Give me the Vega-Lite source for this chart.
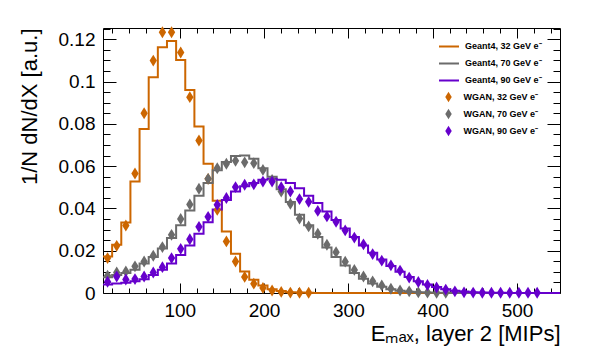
{
 "$schema": "https://vega.github.io/schema/vega-lite/v6.json",
 "width": 457, "height": 265,
 "autosize": {"type": "none"},
 "padding": {"left": 103, "top": 28, "right": 50, "bottom": 66},
 "background": "white",
 "config": {
  "view": {"stroke": "black", "strokeWidth": 1},
  "font": "Liberation Sans",
  "axis": {"domain": false, "grid": false, "tickColor": "black", "labelColor": "black", "titleColor": "black", "labelFont": "Liberation Sans", "titleFont": "Liberation Sans", "titleFontWeight": "normal", "tickWidth": 1},
  "legend": {"labelFont": "Liberation Sans", "labelColor": "black"}
 },
 "datasets": {
  "hist": [
   {"s":"G32","lo":9,"hi":19.84,"y":0.0173},{"s":"G32","lo":19.84,"hi":30.68,"y":0.0228},{"s":"G32","lo":30.68,"hi":41.52,"y":0.0333},{"s":"G32","lo":41.52,"hi":52.36,"y":0.0527},{"s":"G32","lo":52.36,"hi":63.2,"y":0.0775},{"s":"G32","lo":63.2,"hi":74.04,"y":0.102},{"s":"G32","lo":74.04,"hi":84.88,"y":0.1162},{"s":"G32","lo":84.88,"hi":95.72,"y":0.1192},{"s":"G32","lo":95.72,"hi":106.56,"y":0.1102},{"s":"G32","lo":106.56,"hi":117.4,"y":0.096},
   {"s":"G32","lo":117.4,"hi":128.24,"y":0.0787},{"s":"G32","lo":128.24,"hi":139.08,"y":0.0611},{"s":"G32","lo":139.08,"hi":149.92,"y":0.0436},{"s":"G32","lo":149.92,"hi":160.76,"y":0.0291},{"s":"G32","lo":160.76,"hi":171.6,"y":0.0186},{"s":"G32","lo":171.6,"hi":182.44,"y":0.0102},{"s":"G32","lo":182.44,"hi":193.28,"y":0.0063},{"s":"G32","lo":193.28,"hi":204.12,"y":0.0035},{"s":"G32","lo":204.12,"hi":214.96,"y":0.0018},{"s":"G32","lo":214.96,"hi":225.8,"y":0.0009},
   {"s":"G32","lo":225.8,"hi":236.64,"y":0.0004},{"s":"G32","lo":236.64,"hi":247.48,"y":0.0002},{"s":"G32","lo":247.48,"hi":258.32,"y":0.0001},{"s":"G32","lo":258.32,"hi":269.16,"y":0},{"s":"G32","lo":269.16,"hi":280,"y":0},{"s":"G32","lo":280,"hi":290.84,"y":0},{"s":"G32","lo":290.84,"hi":301.68,"y":0},{"s":"G32","lo":301.68,"hi":312.52,"y":0},{"s":"G32","lo":312.52,"hi":323.36,"y":0},{"s":"G32","lo":323.36,"hi":334.2,"y":0},
   {"s":"G32","lo":334.2,"hi":345.04,"y":0},{"s":"G32","lo":345.04,"hi":355.88,"y":0},{"s":"G32","lo":355.88,"hi":366.72,"y":0},{"s":"G32","lo":366.72,"hi":377.56,"y":0},{"s":"G32","lo":377.56,"hi":388.4,"y":0},{"s":"G32","lo":388.4,"hi":399.24,"y":0},{"s":"G32","lo":399.24,"hi":410.08,"y":0},{"s":"G32","lo":410.08,"hi":420.92,"y":0},{"s":"G32","lo":420.92,"hi":431.76,"y":0},{"s":"G32","lo":431.76,"hi":442.6,"y":0},
   {"s":"G32","lo":442.6,"hi":453.44,"y":0},{"s":"G32","lo":453.44,"hi":464.28,"y":0},{"s":"G32","lo":464.28,"hi":475.12,"y":0},{"s":"G32","lo":475.12,"hi":485.96,"y":0},{"s":"G32","lo":485.96,"hi":496.8,"y":0},{"s":"G32","lo":496.8,"hi":507.64,"y":0},{"s":"G32","lo":507.64,"hi":518.48,"y":0},{"s":"G32","lo":518.48,"hi":529.32,"y":0},{"s":"G32","lo":529.32,"hi":540.16,"y":0},{"s":"G32","lo":540.16,"hi":551,"y":0},

   {"s":"G70","lo":9,"hi":19.84,"y":0.0075},{"s":"G70","lo":19.84,"hi":30.68,"y":0.0085},{"s":"G70","lo":30.68,"hi":41.52,"y":0.0095},{"s":"G70","lo":41.52,"hi":52.36,"y":0.011},{"s":"G70","lo":52.36,"hi":63.2,"y":0.014},{"s":"G70","lo":63.2,"hi":74.04,"y":0.017},{"s":"G70","lo":74.04,"hi":84.88,"y":0.021},{"s":"G70","lo":84.88,"hi":95.72,"y":0.026},{"s":"G70","lo":95.72,"hi":106.56,"y":0.032},{"s":"G70","lo":106.56,"hi":117.4,"y":0.039},
   {"s":"G70","lo":117.4,"hi":128.24,"y":0.046},{"s":"G70","lo":128.24,"hi":139.08,"y":0.052},{"s":"G70","lo":139.08,"hi":149.92,"y":0.058},{"s":"G70","lo":149.92,"hi":160.76,"y":0.062},{"s":"G70","lo":160.76,"hi":171.6,"y":0.0648},{"s":"G70","lo":171.6,"hi":182.44,"y":0.065},{"s":"G70","lo":182.44,"hi":193.28,"y":0.0635},{"s":"G70","lo":193.28,"hi":204.12,"y":0.059},{"s":"G70","lo":204.12,"hi":214.96,"y":0.055},{"s":"G70","lo":214.96,"hi":225.8,"y":0.049},
   {"s":"G70","lo":225.8,"hi":236.64,"y":0.043},{"s":"G70","lo":236.64,"hi":247.48,"y":0.037},{"s":"G70","lo":247.48,"hi":258.32,"y":0.032},{"s":"G70","lo":258.32,"hi":269.16,"y":0.0265},{"s":"G70","lo":269.16,"hi":280,"y":0.0215},{"s":"G70","lo":280,"hi":290.84,"y":0.017},{"s":"G70","lo":290.84,"hi":301.68,"y":0.013},{"s":"G70","lo":301.68,"hi":312.52,"y":0.0095},{"s":"G70","lo":312.52,"hi":323.36,"y":0.0067},{"s":"G70","lo":323.36,"hi":334.2,"y":0.0045},
   {"s":"G70","lo":334.2,"hi":345.04,"y":0.003},{"s":"G70","lo":345.04,"hi":355.88,"y":0.0018},{"s":"G70","lo":355.88,"hi":366.72,"y":0.0011},{"s":"G70","lo":366.72,"hi":377.56,"y":0.0006},{"s":"G70","lo":377.56,"hi":388.4,"y":0.0003},{"s":"G70","lo":388.4,"hi":399.24,"y":0.0002},{"s":"G70","lo":399.24,"hi":410.08,"y":0.0001},{"s":"G70","lo":410.08,"hi":420.92,"y":0.0001},{"s":"G70","lo":420.92,"hi":431.76,"y":0},{"s":"G70","lo":431.76,"hi":442.6,"y":0},
   {"s":"G70","lo":442.6,"hi":453.44,"y":0},{"s":"G70","lo":453.44,"hi":464.28,"y":0},{"s":"G70","lo":464.28,"hi":475.12,"y":0},{"s":"G70","lo":475.12,"hi":485.96,"y":0},{"s":"G70","lo":485.96,"hi":496.8,"y":0},{"s":"G70","lo":496.8,"hi":507.64,"y":0},{"s":"G70","lo":507.64,"hi":518.48,"y":0},{"s":"G70","lo":518.48,"hi":529.32,"y":0},{"s":"G70","lo":529.32,"hi":540.16,"y":0},{"s":"G70","lo":540.16,"hi":551,"y":0},

   {"s":"G90","lo":9,"hi":19.84,"y":0.004},{"s":"G90","lo":19.84,"hi":30.68,"y":0.0045},{"s":"G90","lo":30.68,"hi":41.52,"y":0.0048},{"s":"G90","lo":41.52,"hi":52.36,"y":0.0055},{"s":"G90","lo":52.36,"hi":63.2,"y":0.0065},{"s":"G90","lo":63.2,"hi":74.04,"y":0.0085},{"s":"G90","lo":74.04,"hi":84.88,"y":0.011},{"s":"G90","lo":84.88,"hi":95.72,"y":0.014},{"s":"G90","lo":95.72,"hi":106.56,"y":0.018},{"s":"G90","lo":106.56,"hi":117.4,"y":0.0225},
   {"s":"G90","lo":117.4,"hi":128.24,"y":0.028},{"s":"G90","lo":128.24,"hi":139.08,"y":0.0335},{"s":"G90","lo":139.08,"hi":149.92,"y":0.0395},{"s":"G90","lo":149.92,"hi":160.76,"y":0.044},{"s":"G90","lo":160.76,"hi":171.6,"y":0.048},{"s":"G90","lo":171.6,"hi":182.44,"y":0.0505},{"s":"G90","lo":182.44,"hi":193.28,"y":0.052},{"s":"G90","lo":193.28,"hi":204.12,"y":0.0535},{"s":"G90","lo":204.12,"hi":214.96,"y":0.054},{"s":"G90","lo":214.96,"hi":225.8,"y":0.0535},
   {"s":"G90","lo":225.8,"hi":236.64,"y":0.052},{"s":"G90","lo":236.64,"hi":247.48,"y":0.0495},{"s":"G90","lo":247.48,"hi":258.32,"y":0.046},{"s":"G90","lo":258.32,"hi":269.16,"y":0.0425},{"s":"G90","lo":269.16,"hi":280,"y":0.0385},{"s":"G90","lo":280,"hi":290.84,"y":0.0345},{"s":"G90","lo":290.84,"hi":301.68,"y":0.0305},{"s":"G90","lo":301.68,"hi":312.52,"y":0.0265},{"s":"G90","lo":312.52,"hi":323.36,"y":0.0225},{"s":"G90","lo":323.36,"hi":334.2,"y":0.019},
   {"s":"G90","lo":334.2,"hi":345.04,"y":0.0158},{"s":"G90","lo":345.04,"hi":355.88,"y":0.0128},{"s":"G90","lo":355.88,"hi":366.72,"y":0.01},{"s":"G90","lo":366.72,"hi":377.56,"y":0.0076},{"s":"G90","lo":377.56,"hi":388.4,"y":0.0056},{"s":"G90","lo":388.4,"hi":399.24,"y":0.004},{"s":"G90","lo":399.24,"hi":410.08,"y":0.0028},{"s":"G90","lo":410.08,"hi":420.92,"y":0.0018},{"s":"G90","lo":420.92,"hi":431.76,"y":0.0011},{"s":"G90","lo":431.76,"hi":442.6,"y":0.0007},
   {"s":"G90","lo":442.6,"hi":453.44,"y":0.0004},{"s":"G90","lo":453.44,"hi":464.28,"y":0.0002},{"s":"G90","lo":464.28,"hi":475.12,"y":0.0001},{"s":"G90","lo":475.12,"hi":485.96,"y":0.0001},{"s":"G90","lo":485.96,"hi":496.8,"y":0},{"s":"G90","lo":496.8,"hi":507.64,"y":0},{"s":"G90","lo":507.64,"hi":518.48,"y":0},{"s":"G90","lo":518.48,"hi":529.32,"y":0},{"s":"G90","lo":529.32,"hi":540.16,"y":0},{"s":"G90","lo":540.16,"hi":551,"y":0}
  ],
  "pts": [
   {"s":"W32","x":14.42,"y":0.0165},{"s":"W32","x":25.26,"y":0.0223},{"s":"W32","x":36.1,"y":0.0319},{"s":"W32","x":46.94,"y":0.0565},{"s":"W32","x":57.78,"y":0.085},{"s":"W32","x":68.62,"y":0.1099},{"s":"W32","x":79.46,"y":0.1233},{"s":"W32","x":90.3,"y":0.1233},{"s":"W32","x":101.14,"y":0.1137},{"s":"W32","x":111.98,"y":0.0926},
   {"s":"W32","x":122.82,"y":0.0721},{"s":"W32","x":133.66,"y":0.054},{"s":"W32","x":144.5,"y":0.0393},{"s":"W32","x":155.34,"y":0.0244},{"s":"W32","x":166.18,"y":0.0149},{"s":"W32","x":177.02,"y":0.0076},{"s":"W32","x":187.86,"y":0.0044},{"s":"W32","x":198.7,"y":0.0024},{"s":"W32","x":209.54,"y":0.0012},{"s":"W32","x":220.38,"y":0.0005},
   {"s":"W32","x":231.22,"y":0.0002},{"s":"W32","x":242.06,"y":0.0001},{"s":"W32","x":252.9,"y":0.0001},

   {"s":"W70","x":14.42,"y":0.0082},{"s":"W70","x":25.26,"y":0.0097},{"s":"W70","x":36.1,"y":0.0102},{"s":"W70","x":46.94,"y":0.0126},{"s":"W70","x":57.78,"y":0.0149},{"s":"W70","x":68.62,"y":0.0176},{"s":"W70","x":79.46,"y":0.0217},{"s":"W70","x":90.3,"y":0.0275},{"s":"W70","x":101.14,"y":0.035},{"s":"W70","x":111.98,"y":0.0419},
   {"s":"W70","x":122.82,"y":0.0493},{"s":"W70","x":133.66,"y":0.054},{"s":"W70","x":144.5,"y":0.059},{"s":"W70","x":155.34,"y":0.0611},{"s":"W70","x":166.18,"y":0.0625},{"s":"W70","x":177.02,"y":0.0618},{"s":"W70","x":187.86,"y":0.0614},{"s":"W70","x":198.7,"y":0.0582},{"s":"W70","x":209.54,"y":0.0535},{"s":"W70","x":220.38,"y":0.048},
   {"s":"W70","x":231.22,"y":0.0422},{"s":"W70","x":242.06,"y":0.0352},{"s":"W70","x":252.9,"y":0.0315},{"s":"W70","x":263.74,"y":0.028},{"s":"W70","x":274.58,"y":0.0228},{"s":"W70","x":285.42,"y":0.0193},{"s":"W70","x":296.26,"y":0.0148},{"s":"W70","x":307.1,"y":0.0109},{"s":"W70","x":317.94,"y":0.0078},{"s":"W70","x":328.78,"y":0.0055},
   {"s":"W70","x":339.62,"y":0.0036},{"s":"W70","x":350.46,"y":0.002},{"s":"W70","x":361.3,"y":0.0012},{"s":"W70","x":372.14,"y":0.0008},{"s":"W70","x":382.98,"y":0.0003},{"s":"W70","x":393.82,"y":0.0002},{"s":"W70","x":404.66,"y":0.0001},{"s":"W70","x":415.5,"y":0.0001},

   {"s":"W90","x":14.42,"y":0.0053},{"s":"W90","x":25.26,"y":0.0078},{"s":"W90","x":36.1,"y":0.0064},{"s":"W90","x":46.94,"y":0.0066},{"s":"W90","x":57.78,"y":0.0078},{"s":"W90","x":68.62,"y":0.0097},{"s":"W90","x":79.46,"y":0.0122},{"s":"W90","x":90.3,"y":0.0165},{"s":"W90","x":101.14,"y":0.0209},{"s":"W90","x":111.98,"y":0.0254},
   {"s":"W90","x":122.82,"y":0.0313},{"s":"W90","x":133.66,"y":0.036},{"s":"W90","x":144.5,"y":0.0417},{"s":"W90","x":155.34,"y":0.0449},{"s":"W90","x":166.18,"y":0.0501},{"s":"W90","x":177.02,"y":0.0512},{"s":"W90","x":187.86,"y":0.0514},{"s":"W90","x":198.7,"y":0.0527},{"s":"W90","x":209.54,"y":0.0527},{"s":"W90","x":220.38,"y":0.05},
   {"s":"W90","x":231.22,"y":0.048},{"s":"W90","x":242.06,"y":0.0444},{"s":"W90","x":252.9,"y":0.0431},{"s":"W90","x":263.74,"y":0.0388},{"s":"W90","x":274.58,"y":0.0362},{"s":"W90","x":285.42,"y":0.0337},{"s":"W90","x":296.26,"y":0.0296},{"s":"W90","x":307.1,"y":0.0262},{"s":"W90","x":317.94,"y":0.023},{"s":"W90","x":328.78,"y":0.0184},
   {"s":"W90","x":339.62,"y":0.0153},{"s":"W90","x":350.46,"y":0.0131},{"s":"W90","x":361.3,"y":0.0106},{"s":"W90","x":372.14,"y":0.0073},{"s":"W90","x":382.98,"y":0.0052},{"s":"W90","x":393.82,"y":0.0038},{"s":"W90","x":404.66,"y":0.0026},{"s":"W90","x":415.5,"y":0.0016},{"s":"W90","x":426.34,"y":0.0008},{"s":"W90","x":437.18,"y":0.0003},
   {"s":"W90","x":448.02,"y":0.0002},{"s":"W90","x":458.86,"y":0.0001},{"s":"W90","x":469.7,"y":0.0001},{"s":"W90","x":480.54,"y":0.0001},{"s":"W90","x":491.38,"y":0.0001},{"s":"W90","x":502.22,"y":0.0001},{"s":"W90","x":513.06,"y":0.0001},{"s":"W90","x":523.9,"y":0.0001}
  ]
 },
 "layer": [
  {
   "data": {"name": "hist"},
   "transform": [{"fold": ["lo", "hi"], "as": ["edge", "xv"]}],
   "mark": {"type": "line", "strokeWidth": 2},
   "encoding": {
    "x": {"field": "xv", "type": "quantitative", "scale": {"domain": [9, 551], "nice": false, "zero": false},
          "axis": {"orient": "bottom", "values": [100, 200, 300, 400, 500], "format": "d", "tickSize": -10, "labelPadding": 18, "labelFontSize": 19,
                   "title": "Eₘₐₓ, layer 2 [MIPs]", "titleFontSize": 22, "titleAnchor": "end", "titleAlign": "right", "titleX": 457, "titleY": 47, "titleBaseline": "alphabetic"}},
    "y": {"field": "y", "type": "quantitative", "scale": {"domain": [0, 0.1253], "nice": false},
          "axis": {"orient": "left", "values": [0, 0.02, 0.04, 0.06, 0.08, 0.1, 0.12], "format": "~g", "tickSize": -13, "labelPadding": 21, "labelFontSize": 19,
                   "title": "1/N dN/dX [a.u.]", "titleFontSize": 22, "titleAngle": -90, "titleAlign": "right", "titleBaseline": "middle", "titleX": -74, "titleY": 0}},
    "stroke": {"field": "s", "type": "nominal", "scale": {"domain": ["G32", "G70", "G90"], "range": ["#cc6600", "#6b6b6b", "#6600cc"]},
               "legend": {"orient": "none", "legendX": 335, "legendY": 10, "title": null, "symbolType": "stroke", "symbolSize": 400, "symbolStrokeWidth": 2,
                          "labelExpr": "'Geant4, ' + slice(datum.label, 1) + ' GeV e⁻'", "labelFontSize": 9, "labelFontWeight": "bold", "labelOffset": 5, "clipHeight": 16.8, "rowPadding": 0, "padding": 0}},
    "order": [{"field": "xv", "type": "quantitative"}, {"field": "edge", "type": "nominal"}]
   }
  },
  {
   "data": {"name": "pts"},
   "mark": {"type": "point", "shape": "M0,-1L0.62,0L0,1L-0.62,0Z", "size": 140, "filled": true, "opacity": 1, "strokeWidth": 0},
   "encoding": {
    "x": {"field": "x", "type": "quantitative", "scale": {"domain": [9, 551], "nice": false, "zero": false},
          "axis": {"orient": "top", "values": [100, 200, 300, 400, 500], "tickSize": -10, "labels": false, "title": null}},
    "y": {"field": "y", "type": "quantitative", "scale": {"domain": [0, 0.1253], "nice": false},
          "axis": {"orient": "right", "values": [0, 0.02, 0.04, 0.06, 0.08, 0.1, 0.12], "tickSize": -13, "labels": false, "title": null}},
    "fill": {"field": "s", "type": "nominal", "scale": {"domain": ["W32", "W70", "W90"], "range": ["#cc6600", "#6b6b6b", "#6600cc"]},
             "legend": {"orient": "none", "legendX": 340, "legendY": 60.6, "title": null, "symbolType": "M0,-1L0.62,0L0,1L-0.62,0Z", "symbolSize": 110, "symbolStrokeWidth": 0,
                        "labelExpr": "'WGAN, ' + slice(datum.label, 1) + ' GeV e⁻'", "labelFontSize": 9, "labelFontWeight": "bold", "labelOffset": 9.5, "clipHeight": 16.8, "rowPadding": 0, "padding": 0}}
   }
  },
  {
   "data": {"name": "pts"},
   "mark": {"type": "point", "opacity": 0},
   "encoding": {
    "x": {"field": "x", "type": "quantitative", "scale": {"domain": [9, 551], "nice": false, "zero": false},
          "axis": {"orient": "bottom", "values": [20,40,60,80,120,140,160,180,220,240,260,280,320,340,360,380,420,440,460,480,520,540], "tickSize": -5, "labels": false, "title": null}},
    "y": {"field": "y", "type": "quantitative", "scale": {"domain": [0, 0.1253], "nice": false},
          "axis": {"orient": "left", "values": [0.005,0.01,0.015,0.025,0.03,0.035,0.045,0.05,0.055,0.065,0.07,0.075,0.085,0.09,0.095,0.105,0.11,0.115,0.125], "tickSize": -7, "labels": false, "title": null}}
   }
  },
  {
   "data": {"name": "pts"},
   "mark": {"type": "point", "opacity": 0},
   "encoding": {
    "x": {"field": "x", "type": "quantitative", "scale": {"domain": [9, 551], "nice": false, "zero": false},
          "axis": {"orient": "top", "values": [20,40,60,80,120,140,160,180,220,240,260,280,320,340,360,380,420,440,460,480,520,540], "tickSize": -5, "labels": false, "title": null}},
    "y": {"field": "y", "type": "quantitative", "scale": {"domain": [0, 0.1253], "nice": false},
          "axis": {"orient": "right", "values": [0.005,0.01,0.015,0.025,0.03,0.035,0.045,0.05,0.055,0.065,0.07,0.075,0.085,0.09,0.095,0.105,0.11,0.115,0.125], "tickSize": -7, "labels": false, "title": null}}
   }
  }
 ],
 "resolve": {"axis": {"x": "independent", "y": "independent"}}
}
